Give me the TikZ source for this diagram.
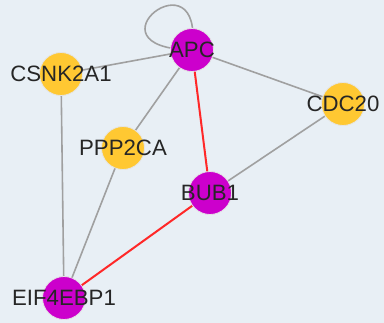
\documentclass[tikz,border=0pt]{standalone}
\usepackage{fontspec}
\setmainfont{Liberation Sans}
\usetikzlibrary{backgrounds}
\definecolor{bgColor}{RGB}{232,239,245}
\definecolor{hitColor}{RGB}{204,0,204}
\definecolor{geneColor}{RGB}{255,200,50}
\definecolor{edgeColor}{RGB}{160,160,160}
\definecolor{redEdge}{RGB}{255,40,40}
\tikzset{
    gene/.style={
        circle,
        minimum size=43bp,
        inner sep=0pt,
        draw=white!80!gray,
        line width=0.8bp,
        fill=geneColor
    },
    hit/.style={
        gene,
        fill=hitColor
    },
    lbl/.style={
        font=\fontsize{22.3}{22.3}\selectfont,
        text=black!85,
        inner sep=0pt
    },
    edge/.style={
        edgeColor,
        line width=1.6bp
    },
    redge/.style={
        redEdge,
        line width=2bp
    }
}

\begin{document}
\begin{tikzpicture}[x=1bp, y=-1bp]
                \useasboundingbox (0,0) rectangle (384,323);
                \node[hit] (APC) at (192,50) {};
                \node[gene] (CSNK) at (61,74) {};
                \node[gene] (CDC) at (343,104) {};
                \node[gene] (PPP) at (123,148) {};
                \node[hit] (BUB) at (210,193) {};
                \node[hit] (EIF) at (64,298) {};

                % Links
                \begin{scope}[on background layer]
                \fill[bgColor] (0,0) rectangle (384,323);
                \draw[edge] (APC.center) .. controls (80,48) and (205,-50) .. (APC.center);
                \draw[edge] (APC.center) -- (CSNK.center);
                \draw[edge] (APC.center) -- (PPP.center);
                \draw[edge] (APC.center) -- (CDC.center);
                \draw[edge] (CDC.center) -- (BUB.center);
                \draw[edge] (CSNK.center) -- (EIF.center);
                \draw[edge] (PPP.center) -- (EIF.center);
                \draw[redge] (APC.center) -- (BUB.center);
                \draw[redge] (BUB.center) -- (EIF.center);
                \end{scope}

                % Labels
                \node[lbl] (APClbl) at (APC) {APC};
                \node[lbl] (CSNKlbl) at (CSNK) {CSNK2A1};
                \node[lbl] (CDClbl) at (CDC) {CDC20};
                \node[lbl] (PPPlbl) at (PPP) {PPP2CA};
                \node[lbl] (BUBlbl) at (BUB) {BUB1};
                \node[lbl] (EIFlbl) at (EIF) {EIF4EBP1};
            \end{tikzpicture}
\end{document}
